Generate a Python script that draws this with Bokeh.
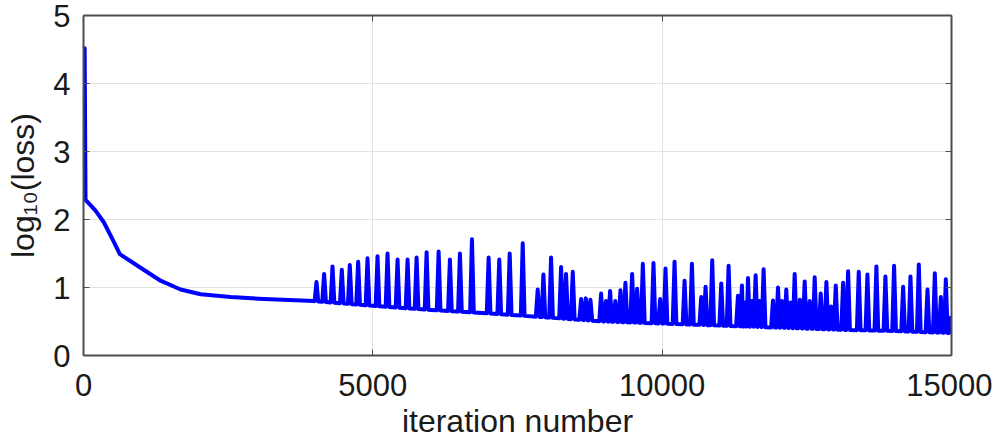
import numpy as np
from bokeh.plotting import figure
from bokeh.models import Range1d, LinearAxis, FixedTicker
from bokeh.embed import file_html
from bokeh.resources import INLINE

# ---- data ----
x_ticks = [0, 5000, 10000, 15000]
y_ticks = [0, 1, 2, 3, 4, 5]

# smooth underlying loss curve (iteration, log10(loss))
base_iter = [20, 35, 208, 351, 496, 628, 986, 1332, 1678, 2024, 2543, 3120, 3985,
             5000, 6000, 7000, 8000, 9000, 10000, 11000, 12000, 13000, 14000, 15000]
base_loss = [4.52, 2.29, 2.13, 1.96, 1.72, 1.49, 1.29, 1.10, 0.97, 0.90, 0.86, 0.83, 0.80,
             0.73, 0.67, 0.62, 0.56, 0.50, 0.47, 0.44, 0.41, 0.38, 0.36, 0.33]

# loss spikes (iteration, peak log10(loss))
spike_iter = [4026, 4158, 4303, 4464, 4602, 4746, 4908, 5081, 5254, 5427,
              5600, 5756, 5929, 6137, 6332, 6505, 6713, 7001, 7185, 7365,
              7590, 7849, 7948, 8080, 8253, 8339, 8455, 8600, 8680, 8760,
              8945, 9030, 9100, 9190, 9279, 9365, 9481, 9567, 9666, 9850,
              9965, 10058, 10214, 10387, 10514, 10675, 10750, 10865, 11021, 11148,
              11310, 11379, 11430, 11483, 11550, 11615, 11680, 11753, 11915, 12002,
              12070, 12145, 12220, 12290, 12380, 12463, 12550, 12636, 12740, 12838,
              12920, 13000, 13127, 13213, 13397, 13547, 13702, 13858, 14008, 14164,
              14291, 14435, 14585, 14712, 14816, 14902, 14990]
spike_peak = [1.08, 1.20, 1.31, 1.26, 1.33, 1.38, 1.43, 1.46, 1.50, 1.41,
              1.41, 1.44, 1.52, 1.53, 1.41, 1.50, 1.71, 1.44, 1.41, 1.50,
              1.65, 0.97, 1.19, 1.44, 1.30, 1.20, 1.23, 0.83, 0.84, 0.82,
              0.91, 0.80, 0.95, 0.80, 0.96, 1.07, 1.20, 0.98, 1.35, 1.36,
              0.83, 1.28, 1.38, 1.10, 1.35, 0.86, 1.01, 1.40, 1.06, 1.32,
              0.88, 1.03, 0.78, 1.14, 0.80, 1.18, 0.80, 1.27, 0.81, 1.00,
              0.80, 0.97, 0.78, 1.20, 0.82, 1.09, 0.80, 1.15, 0.91, 1.08,
              0.72, 1.03, 1.07, 1.24, 1.23, 1.19, 1.31, 1.16, 1.32, 1.01,
              1.16, 1.34, 0.97, 1.21, 0.86, 1.12, 0.56]

# ---- build the trace: underlying curve with the spikes on it ----
half = 32
pts = []
for bx, by in zip(base_iter, base_loss):
    if not any(abs(bx - sx) <= half for sx in spike_iter):
        pts.append((bx, by))
for sx, sp in zip(spike_iter, spike_peak):
    pts.append((sx - half, float(np.interp(sx - half, base_iter, base_loss))))
    pts.append((sx, sp))
    pts.append((sx + half, float(np.interp(sx + half, base_iter, base_loss))))
pts.sort(key=lambda t: t[0])
trace_x = [t[0] for t in pts]
trace_y = [t[1] for t in pts]

FONT = "Liberation Sans"
BOX = "#4d4d4d"
TXT = "#1a1a1a"

p = figure(frame_width=868, frame_height=340,
           x_range=Range1d(0, 15000), y_range=Range1d(0, 5),
           output_backend="svg", toolbar_location=None,
           min_border_left=83, min_border_right=41,
           min_border_top=15, min_border_bottom=0,
           x_axis_label="iteration number", y_axis_label="log₁₀(loss)")
p.outline_line_color = None
p.background_fill_color = "white"
p.border_fill_color = "white"

p.line(trace_x, trace_y, line_color="#0000ff", line_width=4,
       line_join="round", line_cap="round")

for ax in (p.xaxis[0], p.yaxis[0]):
    ax.major_label_text_font = FONT
    ax.major_label_text_font_size = "31px"
    ax.major_label_text_color = TXT
    ax.major_label_text_line_height = 1.0
    ax.axis_label_text_font = FONT
    ax.axis_label_text_font_size = "32px"
    ax.axis_label_text_font_style = "normal"
    ax.axis_label_text_color = TXT
    ax.axis_label_text_line_height = 1.0
    ax.axis_line_color = BOX
    ax.axis_line_width = 2
    ax.major_tick_in = 6
    ax.major_tick_out = 0
    ax.major_tick_line_color = BOX
    ax.minor_tick_line_color = None

p.xaxis[0].ticker = FixedTicker(ticks=x_ticks)
p.yaxis[0].ticker = FixedTicker(ticks=y_ticks)
p.xaxis[0].major_label_standoff = 18
p.xaxis[0].axis_label_standoff = 4
p.yaxis[0].major_label_standoff = 13
p.yaxis[0].axis_label_standoff = 9

for loc, ticks in (("above", x_ticks), ("right", y_ticks)):
    ax = LinearAxis(ticker=FixedTicker(ticks=ticks))
    ax.major_label_text_font_size = "1px"
    ax.major_label_text_color = None
    ax.major_label_standoff = 0
    ax.axis_line_color = BOX
    ax.axis_line_width = 2
    ax.major_tick_in = 6
    ax.major_tick_out = 0
    ax.major_tick_line_color = BOX
    ax.minor_tick_line_color = None
    p.add_layout(ax, loc)

p.xgrid.ticker = FixedTicker(ticks=x_ticks)
p.ygrid.ticker = FixedTicker(ticks=y_ticks)
p.grid.grid_line_color = "#e2e2e2"
p.grid.grid_line_width = 1

open("out.html", "w").write(file_html(p, INLINE))
